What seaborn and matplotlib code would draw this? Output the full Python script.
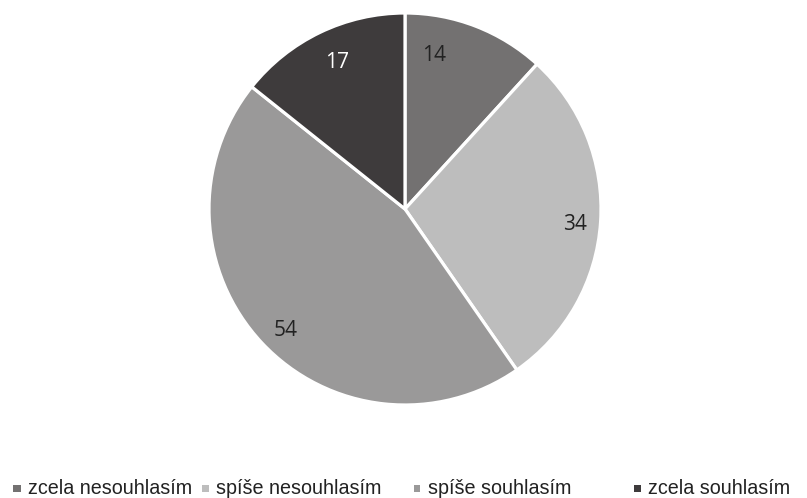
import matplotlib
matplotlib.use("Agg")
import matplotlib.pyplot as plt
from matplotlib.patches import Rectangle
import seaborn as sns

categories = ["zcela nesouhlasím", "spíše nesouhlasím", "spíše souhlasím", "zcela souhlasím"]
values = [14, 34, 54, 17]
colors = ["#737171", "#bdbdbd", "#9a9999", "#3e3b3c"]
label_colors = ["#222222", "#222222", "#222222", "#ffffff"]
# small nudges of the value labels (fractions of the radius), as in the source layout
label_nudge = [(-0.16, -0.01), (0.02, -0.025), (0.01, -0.04), (0.02, -0.02)]

sns.set_theme(style="white")
plt.rcParams["font.family"] = ["Open Sans", "DejaVu Sans"]

W, H = 807, 498
fig = plt.figure(figsize=(W / 100, H / 100), dpi=100)
cx, cy, r = 405, 209, 196
ax = fig.add_axes([(cx - r) / W, (H - cy - r) / H, 2 * r / W, 2 * r / H])

wedges, texts = ax.pie(values, colors=colors, startangle=90, counterclock=False,
                       labels=[str(v) for v in values], labeldistance=0.85,
                       wedgeprops=dict(edgecolor="white", linewidth=2.3),
                       textprops=dict(fontsize=15))
for t, c, (dx, dy) in zip(texts, label_colors, label_nudge):
    t.set_color(c)
    t.set_horizontalalignment("center")
    t.set_verticalalignment("center")
    x, y = t.get_position()
    t.set_position((x + dx, y + dy))
ax.set_xlim(-1, 1)
ax.set_ylim(-1, 1)
ax.set_aspect("equal")
ax.axis("off")

# legend entries placed along the bottom
marker_x = [17, 205, 417, 637]
ly = 488
for mx, c, lab in zip(marker_x, colors, categories):
    fig.patches.append(Rectangle(((mx - 3.5) / W, (H - ly - 3.5) / H), 7 / W, 7 / H,
                                 transform=fig.transFigure, facecolor=c, edgecolor="none"))
    fig.text((mx + 11) / W, (H - ly) / H, lab, ha="left", va="center",
             family="Liberation Sans", fontsize=14.2, color="#222222")

fig.savefig("out.png", dpi=100, facecolor="white")
